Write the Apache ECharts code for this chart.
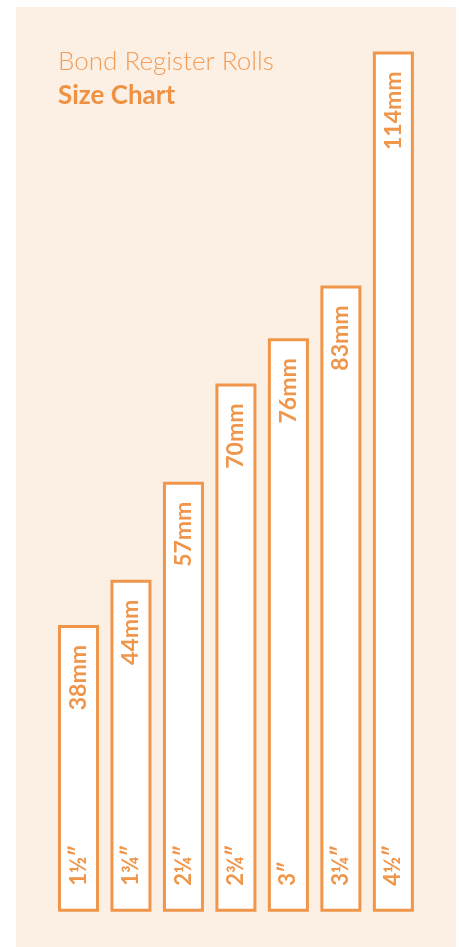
<!DOCTYPE html>
<html>
<head>
<meta charset="utf-8">
<script src="https://cdn.jsdelivr.net/npm/echarts@6/dist/echarts.min.js"></script>
<style>
  html, body { margin: 0; padding: 0; background: #ffffff; }
  #chart { width: 459px; height: 947px; }
</style>
</head>
<body>
<div id="chart"></div>
<script>
// ---- data ----
const categories = ['1½″', '1¾″', '2¼″', '2¾″', '3″', '3¼″', '4½″'];
const rollWidthsMM = [38, 44, 57, 70, 76, 83, 114];
const valueUnit = 'mm';
const titleLine1 = 'Bond Register Rolls';
const titleLine2 = 'Size Chart';

const ORANGE = '#F0964B';
const FONT = 'Lato, "Open Sans", "Noto Sans", sans-serif';

const chart = echarts.init(document.getElementById('chart'), null, { renderer: 'canvas' });
chart.setOption({
  backgroundColor: '#ffffff',
  animation: false,
  graphic: [{
    type: 'rect',
    z: -10,
    silent: true,
    shape: { x: 16, y: 7, width: 440, height: 940 },
    style: { fill: '#FCEFE4' }
  }],
  title: {
    text: titleLine1,
    subtext: titleLine2,
    left: 58,
    top: 47,
    itemGap: 5,
    padding: 0,
    textStyle: { fontFamily: FONT, fontSize: 26, fontWeight: 300, color: '#F19D58', lineHeight: 29 },
    subtextStyle: { fontFamily: FONT, fontSize: 26, fontWeight: 'bold', color: '#EE9142', lineHeight: 29 }
  },
  grid: { left: 52.25, right: 39.4, top: 51.5, bottom: 35.2, containLabel: false },
  xAxis: {
    type: 'category',
    data: categories,
    z: 10,
    axisLine: { show: false },
    axisTick: { show: false },
    splitLine: { show: false },
    axisLabel: {
      inside: true,
      rotate: 90,
      margin: 26,
      align: 'left',
      verticalAlign: 'middle',
      fontFamily: FONT,
      fontSize: 22,
      fontWeight: 'bold',
      color: ORANGE
    }
  },
  yAxis: {
    type: 'value',
    min: 0,
    max: 114,
    show: false,
    splitLine: { show: false }
  },
  series: [{
    type: 'bar',
    data: rollWidthsMM,
    barWidth: 41,
    itemStyle: { color: '#ffffff', borderColor: ORANGE, borderWidth: 3 },
    label: {
      show: true,
      position: 'insideTop',
      rotate: 90,
      align: 'right',
      verticalAlign: 'middle',
      distance: 20,
      formatter: p => p.value + valueUnit,
      fontFamily: FONT,
      fontSize: 23,
      fontWeight: 'bold',
      color: ORANGE
    }
  }]
});
</script>
</body>
</html>
